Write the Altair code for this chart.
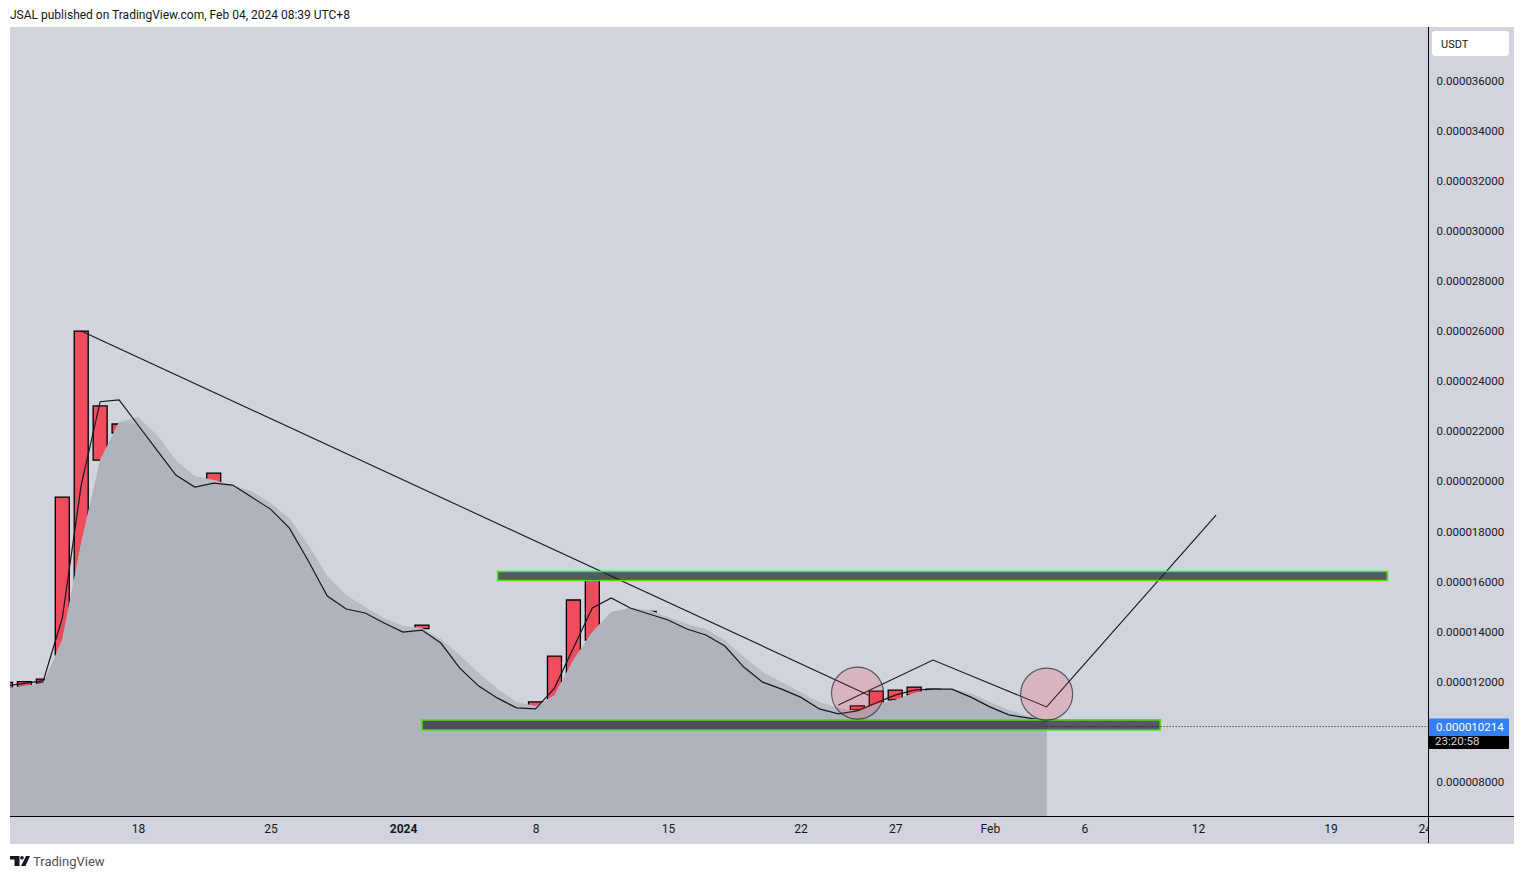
import altair as alt
import pandas as pd

FONT = "Roboto"
TEXT = "#131722"

# Prices are in units of 0.000001 USDT; x is days counted from 18 Dec 2023.
days = list(range(-7, 49))
close_line = [11.83, 11.94, 12.05, 14.55, 19.86, 23.19, 23.26, 22.26, 21.26, 20.26, 19.78, 19.94, 19.86, 19.38,
              18.90, 18.14, 16.83, 15.43, 14.91, 14.75, 14.35, 13.99, 14.07, 13.55, 12.55, 11.83, 11.35, 10.96,
              10.92, 11.75, 13.35, 14.95, 15.35, 14.95, 14.71, 14.47, 14.11, 13.87, 13.43, 12.59, 11.99, 11.71,
              11.39, 10.92, 10.72, 10.84, 11.16, 11.47, 11.67, 11.71, 11.71, 11.39, 11.00, 10.68, 10.56, 10.44]
smooth_line = [11.75, 11.83, 11.95, 13.67, 17.55, 20.86, 22.38, 22.58, 21.86, 20.86, 20.22, 20.06, 19.86, 19.62,
               19.14, 18.54, 17.47, 16.23, 15.47, 14.99, 14.55, 14.23, 14.15, 13.71, 13.07, 12.35, 11.71, 11.20,
               11.04, 11.47, 12.87, 13.99, 14.79, 14.95, 14.87, 14.59, 14.31, 14.11, 13.67, 12.99, 12.39, 11.99,
               11.59, 11.20, 10.96, 10.84, 11.12, 11.28, 11.55, 11.71, 11.71, 11.55, 11.20, 10.88, 10.64, 10.48]
lower_edge = [min(a, b) for a, b in zip(close_line, smooth_line)]

candle_days = [-7, -6, -5, -4, -3, -2, -1, 4, 15, 21, 22, 23, 24, 27, 38, 39, 40, 41, 42]
candle_top = [11.98, 12.01, 12.11, 19.38, 26.01, 23.02, 22.30, 20.34, 14.27, 11.20, 13.03, 15.27, 16.05, 14.81,
              11.04, 11.63, 11.67, 11.79, 11.71]
candle_bottom = [11.75, 11.79, 11.95, 13.07, 16.07, 20.86, 21.94, 19.98, 14.13, 11.00, 11.27, 12.15, 13.67, 14.47,
                 10.88, 11.00, 11.28, 11.47, 11.59]

trend_a_x = [-3, 38.6]
trend_a_y = [26.01, 11.47]
trend_b_x = [37, 42, 48, 56.95]
trend_b_y = [11.08, 12.87, 11.00, 18.66]

band_x = [19, 15]
band_x2 = [66, 54]
band_y = [16.41, 10.48]
band_y2 = [16.05, 10.08]

circle_x = [38.01, 48]
circle_y = [11.55, 11.51]

last_price = 10.214
price_line_x = [48, 68.146]

y_ticks = [8, 12, 14, 16, 18, 20, 22, 24, 26, 28, 30, 32, 34, 36]
x_ticks = [0, 7, 14, 21, 28, 35, 40, 45, 50, 56, 63]
x_labels = ["18", "25", "2024", "8", "15", "22", "27", "Feb", "6", "12", "19"]
clipped_tick = [68]
clipped_label = ["24"]

title_text = "JSAL published on TradingView.com, Feb 04, 2024 08:39 UTC+8"

x_dom = [-6.762, 68.146]
y_dom = [6.642, 38.157]
xs = alt.Scale(domain=x_dom, nice=False, zero=False, padding=0)
ys = alt.Scale(domain=y_dom, nice=False, zero=False)

tick_list = ",".join(str(t) for t in x_ticks)
label_list = ",".join("'" + t + "'" for t in x_labels)

x_axis = alt.Axis(
    title=None, values=x_ticks, grid=False, ticks=False, domain=False, zindex=1,
    labelExpr=f"[{label_list}][indexof([{tick_list}],datum.value)]",
    labelFontWeight={"condition": {"test": "datum.value==14", "value": "bold"}, "value": "normal"},
    labelFont=FONT, labelFontSize=12, labelColor=TEXT, labelPadding=7, labelOverlap=False,
    labelFlush=False,
)
y_axis = alt.Axis(
    title=None, orient="right", values=y_ticks, grid=False, ticks=False, domain=False, zindex=1,
    labelExpr="format(datum.value/1000000,'.9f')", labelFont=FONT, labelFontSize=11.5, labelColor=TEXT,
    labelPadding=8, labelAlign="left", labelOverlap=False, labelOffset=0.4,
)

series = pd.DataFrame({"day": days, "close": close_line, "smooth": smooth_line, "lower": lower_edge})
candles = pd.DataFrame({"day": candle_days, "top": candle_top, "bottom": candle_bottom})
bands = pd.DataFrame({"x": band_x, "x2": band_x2, "y": band_y, "y2": band_y2})
circles = pd.DataFrame({"x": circle_x, "y": circle_y})
trend_a = pd.DataFrame({"x": trend_a_x, "y": trend_a_y})
trend_b = pd.DataFrame({"x": trend_b_x, "y": trend_b_y})
price_line = pd.DataFrame({"x": price_line_x, "y": [last_price, last_price]})
clipped = pd.DataFrame({"x": clipped_tick, "label": clipped_label})

X = lambda f: alt.X(f, type="quantitative", scale=xs, axis=x_axis)
Y = lambda f: alt.Y(f, type="quantitative", scale=ys, axis=y_axis)

candle_layer = alt.Chart(candles).mark_bar(size=14, color="#F04C5D", stroke="#000000", strokeWidth=1.3, clip=True).encode(
    x=X("day"), y=Y("top"), y2="bottom")
fringe = alt.Chart(series).mark_area(color="#B9BCC4", clip=True).encode(
    x=X("day"), y=Y("smooth"), y2=alt.value(789))
body = alt.Chart(series).mark_area(color="#B0B3BB", clip=True).encode(
    x=X("day"), y=Y("lower"), y2=alt.value(789))
close_layer = alt.Chart(series).mark_line(color="#131722", strokeWidth=1.2, clip=True).encode(
    x=X("day"), y=Y("close"))
trend1 = alt.Chart(trend_a).mark_line(color="#131722", strokeWidth=1.1).encode(x=X("x"), y=Y("y"))
trend2 = alt.Chart(trend_b).mark_line(color="#131722", strokeWidth=1.1).encode(x=X("x"), y=Y("y"))
band_layer = alt.Chart(bands).mark_rect(fill="#1C1E22", fillOpacity=0.68, stroke="#47E01A", strokeWidth=1.6).encode(
    x=X("x"), x2="x2", y=Y("y"), y2="y2")
dotted = alt.Chart(price_line).mark_line(color="#131722", strokeWidth=1, strokeDash=[1, 2]).encode(
    x=X("x"), y=Y("y"))
circle_layer = alt.Chart(circles).mark_point(
    filled=False, fill="#F23645", fillOpacity=0.2, stroke="#2A2E39", strokeOpacity=0.75, strokeWidth=1.1,
    size=2704, shape="circle", opacity=1,
).encode(x=X("x"), y=Y("y"))

PANEL = "#D1D4DC"
bottom_panel = alt.Chart().mark_rect(color=PANEL).encode(
    x=alt.value(0), x2=alt.value(1418), y=alt.value(789), y2=alt.value(817))
clipped_text = alt.Chart(clipped).mark_text(font=FONT, fontSize=12, color=TEXT, baseline="middle").encode(
    x=X("x"), y=alt.value(802), text="label:N")
right_panel = alt.Chart().mark_rect(color=PANEL).encode(
    x=alt.value(1418), x2=alt.value(1504), y=alt.value(0), y2=alt.value(817))
rule_v = alt.Chart().mark_rule(color="#000000", strokeWidth=1).encode(
    x=alt.value(1418.5), y=alt.value(0), y2=alt.value(816))
rule_h = alt.Chart().mark_rule(color="#000000", strokeWidth=1).encode(
    x=alt.value(0), x2=alt.value(1504), y=alt.value(789.5))

usdt_box = alt.Chart().mark_rect(color="#FFFFFF", cornerRadius=3).encode(
    x=alt.value(1422), x2=alt.value(1499), y=alt.value(4), y2=alt.value(29))
usdt_text = alt.Chart().mark_text(font=FONT, fontSize=11, color=TEXT, align="left", baseline="middle").encode(
    x=alt.value(1431), y=alt.value(17.5), text=alt.value("USDT"))
price_box = alt.Chart().mark_rect(color="#3380F5").encode(
    x=alt.value(1419), x2=alt.value(1499), y=alt.value(691.5), y2=alt.value(709))
price_text = alt.Chart().mark_text(font=FONT, fontSize=11.5, color="#FFFFFF", align="left", baseline="middle").encode(
    x=alt.value(1426), y=alt.value(700.5), text=alt.value(format(last_price / 1e6, ".9f")))
timer_box = alt.Chart().mark_rect(color="#000000", cornerRadius=1).encode(
    x=alt.value(1419), x2=alt.value(1499), y=alt.value(709), y2=alt.value(722))
timer_text = alt.Chart().mark_text(font=FONT, fontSize=11.5, color="#D8D8D8", align="left", baseline="middle").encode(
    x=alt.value(1425), y=alt.value(714.5), text=alt.value("23:20:58"))

title_layer = alt.Chart().mark_text(font=FONT, fontSize=12, color=TEXT, align="left", baseline="middle").encode(
    x=alt.value(0), y=alt.value(-12.5), text=alt.value(title_text))
logo_path = ("M-1,-0.5 L-0.05,-0.5 L-0.05,0.5 L-0.55,0.5 L-0.55,-0.15 L-1,-0.15 Z "
             "M0.02,-0.33 A0.18,0.18 0 1,1 0.38,-0.33 A0.18,0.18 0 1,1 0.02,-0.33 Z "
             "M0.6,-0.5 L1,-0.5 L0.55,0.5 L0.1,0.5 Z")
logo = alt.Chart().mark_point(shape=logo_path, filled=True, color=TEXT, size=400, opacity=1).encode(
    x=alt.value(10), y=alt.value(834))
logo_text = alt.Chart().mark_text(font=FONT, fontSize=13, color="#50535E", align="left", baseline="middle").encode(
    x=alt.value(23), y=alt.value(834.5), text=alt.value("TradingView"))

chart = alt.layer(
    candle_layer, fringe, body, close_layer, trend1, trend2, band_layer, dotted, circle_layer,
    bottom_panel, clipped_text, right_panel, rule_v, rule_h,
    usdt_box, usdt_text, price_box, price_text, timer_box, timer_text,
    title_layer, logo, logo_text,
).properties(
    width=1418, height=789,
    autosize=alt.AutoSizeParams(type="none"),
    padding={"left": 2, "top": 19, "right": 86, "bottom": 56},
    background="#FFFFFF",
).configure_view(fill=PANEL, strokeWidth=0)

chart.save("out.html", embed_options={"renderer": "svg", "actions": False})
